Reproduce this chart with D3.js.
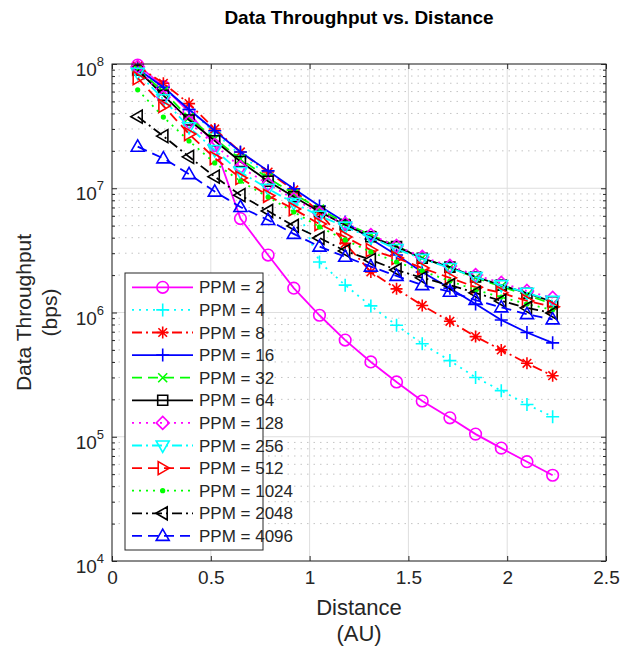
<!DOCTYPE html>
<html><head><meta charset="utf-8">
<script src="https://cdn.jsdelivr.net/npm/d3@7"></script>
<style>body{margin:0;background:#fff}svg{display:block}</style>
</head><body><svg id="c" width="620" height="653"></svg>
<script>
// ---------------- data ----------------
const distances = [0.13,0.26,0.39,0.52,0.65,0.79,0.92,1.05,1.18,1.31,1.44,1.57,1.71,1.84,1.97,2.10,2.23];
const ppmLabels = ["PPM = 2","PPM = 4","PPM = 8","PPM = 16","PPM = 32","PPM = 64","PPM = 128","PPM = 256","PPM = 512","PPM = 1024","PPM = 2048","PPM = 4096"];
const ppm2    = [9.8e7,6.6e7,4.1e7,2.2e7,5.7e6,2.9e6,1.57e6,9.5e5,6.0e5,4.0e5,2.76e5,1.94e5,1.42e5,1.05e5,8.1e4,6.3e4,4.9e4];
const ppm4    = [9.3e7,6.5e7,4.3e7,2.8e7,1.85e7,1.28e7,8.0e6,2.55e6,1.66e6,1.13e6,7.9e5,5.6e5,4.1e5,3.0e5,2.35e5,1.82e5,1.45e5];
const ppm8    = [9.6e7,7.0e7,4.8e7,3.0e7,1.96e7,1.35e7,9.7e6,6.4e6,3.6e6,2.12e6,1.55e6,1.14e6,8.5e5,6.4e5,5.0e5,3.9e5,3.1e5];
const ppm16   = [9.1e7,6.5e7,4.3e7,2.9e7,1.96e7,1.38e7,9.9e6,7.2e6,5.35e6,3.9e6,2.9e6,2.12e6,1.57e6,1.17e6,8.7e5,6.9e5,5.7e5];
const ppm32   = [9.1e7,6.0e7,3.7e7,2.5e7,1.72e7,1.21e7,9.0e6,6.8e6,5.25e6,4.2e6,3.43e6,2.75e6,2.3e6,1.9e6,1.62e6,1.38e6,1.17e6];
const ppm64   = [8.95e7,5.6e7,3.54e7,2.41e7,1.64e7,1.14e7,8.55e6,6.48e6,5.06e6,4.07e6,3.39e6,2.73e6,2.32e6,1.93e6,1.66e6,1.43e6,1.22e6];
const ppm128  = [9.5e7,5.4e7,3.4e7,2.23e7,1.48e7,1.08e7,8.2e6,6.3e6,5.2e6,4.2e6,3.43e6,2.8e6,2.37e6,2.0e6,1.73e6,1.49e6,1.31e6];
const ppm256  = [8.5e7,5.2e7,3.1e7,2.03e7,1.35e7,9.9e6,7.6e6,6.0e6,4.9e6,4.0e6,3.24e6,2.7e6,2.28e6,1.93e6,1.66e6,1.44e6,1.24e6];
const ppm512  = [7.7e7,4.6e7,2.73e7,1.75e7,1.21e7,8.7e6,6.8e6,5.15e6,4.05e6,3.18e6,2.75e6,2.28e6,1.9e6,1.6e6,1.44e6,1.24e6,1.11e6];
const ppm1024 = [6.2e7,3.74e7,2.4e7,1.6e7,1.14e7,8.5e6,6.44e6,4.88e6,3.84e6,3.07e6,2.55e6,2.16e6,1.79e6,1.52e6,1.33e6,1.17e6,1.05e6];
const ppm2048 = [3.77e7,2.63e7,1.79e7,1.24e7,8.8e6,6.56e6,4.97e6,3.98e6,3.13e6,2.65e6,2.2e6,1.9e6,1.66e6,1.44e6,1.24e6,1.09e6,9.9e5];
const ppm4096 = [2.16e7,1.74e7,1.30e7,9.4e6,7.06e6,5.55e6,4.29e6,3.39e6,2.81e6,2.34e6,1.97e6,1.66e6,1.47e6,1.26e6,1.10e6,9.7e5,8.8e5];
const seriesValues = [ppm2,ppm4,ppm8,ppm16,ppm32,ppm64,ppm128,ppm256,ppm512,ppm1024,ppm2048,ppm4096];
const xTicks = [0,0.5,1,1.5,2,2.5];
const xTickLabels = ["0","0.5","1","1.5","2","2.5"];
const yTickExponents = [4,5,6,7,8];

// ---------------- styles ----------------
const styles = [
  {color:"#ff00ff", dash:null,        marker:"circle"},
  {color:"#00ffff", dash:"2,5",       marker:"plus"},
  {color:"#ff0000", dash:"10,4,2,4",  marker:"asterisk"},
  {color:"#0000ff", dash:null,        marker:"plus"},
  {color:"#00ff00", dash:"10,6",      marker:"x"},
  {color:"#000000", dash:null,        marker:"square"},
  {color:"#ff00ff", dash:"2,5",       marker:"diamond"},
  {color:"#00ffff", dash:"10,4,2,4",  marker:"tdown"},
  {color:"#ff0000", dash:"10,6",      marker:"tright"},
  {color:"#00ff00", dash:"2,5",       marker:"point"},
  {color:"#000000", dash:"10,4,2,4",  marker:"tleft"},
  {color:"#0000ff", dash:"10,6",      marker:"tup"}
];
const FONT = "'Liberation Sans', Arial, Helvetica, sans-serif";
const TXT = "#262626";

function markerPath(t){
  switch(t){
    case "circle": {const r=5.8; return `M${r},0A${r},${r} 0 1,1 ${-r},0A${r},${r} 0 1,1 ${r},0Z`;}
    case "plus": return "M-6.5,0H6.5M0,-6.5V6.5";
    case "asterisk": return "M-6,0H6M0,-6V6M-4.3,-4.3L4.3,4.3M-4.3,4.3L4.3,-4.3";
    case "x": return "M-4.5,-4.5L4.5,4.5M-4.5,4.5L4.5,-4.5";
    case "square": return "M-5,-5H5V5H-5Z";
    case "diamond": return "M0,-6.5L6.5,0L0,6.5L-6.5,0Z";
    case "tdown": return "M-6.5,-4.5L6.5,-4.5L0,6.8Z";
    case "tup": return "M0,-6.8L6.5,4.5L-6.5,4.5Z";
    case "tright": return "M6.8,0L-4.5,-6.5L-4.5,6.5Z";
    case "tleft": return "M-6.8,0L4.5,-6.5L4.5,6.5Z";
    case "point": {const r=1.8; return `M${r},0A${r},${r} 0 1,1 ${-r},0A${r},${r} 0 1,1 ${r},0Z`;}
  }
}

// ---------------- layout ----------------
const L=112, R=606, T=64, B=561;
const svg = d3.select("#c");
const x = d3.scaleLinear().domain([0,2.5]).range([L,R]);
const y = d3.scaleLog().domain([1e4,1e8]).range([B,T]);

svg.append("rect").attr("x",L).attr("y",T).attr("width",R-L).attr("height",B-T).attr("fill","#fff");

// minor grid
const minorVals = [];
yTickExponents.slice(0,-1).forEach(e=>{ for(let k=2;k<=9;k++) minorVals.push(k*Math.pow(10,e)); });
const grid = svg.append("g");
grid.selectAll(".mg").data(minorVals).join("line")
  .attr("x1",L).attr("x2",R).attr("y1",d=>y(d)).attr("y2",d=>y(d))
  .attr("stroke","#c4c4c4").attr("stroke-width",1).attr("stroke-dasharray","1.5,5");
grid.selectAll(".gy").data(yTickExponents.map(e=>Math.pow(10,e))).join("line")
  .attr("x1",L).attr("x2",R).attr("y1",d=>y(d)).attr("y2",d=>y(d))
  .attr("stroke","#dedede").attr("stroke-width",1);
grid.selectAll(".gx").data(xTicks).join("line")
  .attr("y1",T).attr("y2",B).attr("x1",d=>x(d)).attr("x2",d=>x(d))
  .attr("stroke","#dedede").attr("stroke-width",1);

// series
const plot = svg.append("g");
seriesValues.forEach((vals,i)=>{
  const st = styles[i];
  const pts = distances.map((d,j)=>[d,vals[j]]);
  const line = d3.line().x(p=>x(p[0])).y(p=>y(p[1]));
  plot.append("path").attr("d",line(pts)).attr("fill","none")
    .attr("stroke",st.color).attr("stroke-width",1.8)
    .attr("stroke-dasharray",st.dash);
  plot.append("g").selectAll("path").data(pts).join("path")
    .attr("transform",p=>`translate(${x(p[0])},${y(p[1])})`)
    .attr("d",markerPath(st.marker))
    .attr("fill",st.marker==="point"?st.color:"none")
    .attr("stroke",st.color).attr("stroke-width",1.6);
});

// axes
function styleAxis(g){ g.select(".domain").remove(); g.selectAll(".tick line").attr("stroke",TXT).attr("stroke-width",1); }
svg.append("g").attr("transform",`translate(0,${B})`)
  .call(d3.axisBottom(x).tickValues(xTicks).tickFormat((d,i)=>xTickLabels[i]).tickSizeInner(-5).tickSizeOuter(0).tickPadding(10))
  .call(styleAxis)
  .call(g=>g.selectAll("text").attr("fill",TXT).attr("font-family",FONT).attr("font-size",19));
svg.append("g").attr("transform",`translate(0,${T})`)
  .call(d3.axisTop(x).tickValues(xTicks).tickFormat("").tickSizeInner(-5).tickSizeOuter(0)).call(styleAxis);
const majorY = yTickExponents.map(e=>Math.pow(10,e));
[["l",L,d3.axisLeft],["r",R,d3.axisRight]].forEach(([k,px,ax])=>{
  svg.append("g").attr("transform",`translate(${px},0)`)
    .call(ax(y).tickValues(majorY).tickFormat("").tickSizeInner(-5).tickSizeOuter(0)).call(styleAxis);
  svg.append("g").attr("transform",`translate(${px},0)`)
    .call(ax(y).tickValues(minorVals).tickFormat("").tickSizeInner(-3).tickSizeOuter(0)).call(styleAxis);
});
// y tick labels
const yl = svg.append("g").attr("font-family",FONT).attr("fill",TXT);
yTickExponents.forEach(e=>{
  const t = yl.append("text").attr("x",104).attr("y",y(Math.pow(10,e))+12).attr("text-anchor","end");
  t.append("tspan").attr("font-size",19).text("10");
  t.append("tspan").attr("font-size",13).attr("dy",-10).text(String(e));
});
// box
svg.append("rect").attr("x",L).attr("y",T).attr("width",R-L).attr("height",B-T)
  .attr("fill","none").attr("stroke",TXT).attr("stroke-width",1);

// labels
svg.append("text").attr("x",(L+R)/2).attr("y",24).attr("text-anchor","middle")
  .attr("font-family",FONT).attr("font-weight","bold").attr("font-size",19).attr("fill","#000")
  .text("Data Throughput vs. Distance");
const xl = svg.append("text").attr("text-anchor","middle").attr("font-family",FONT).attr("font-size",22).attr("fill",TXT);
xl.append("tspan").attr("x",(L+R)/2).attr("y",615).text("Distance");
xl.append("tspan").attr("x",(L+R)/2).attr("y",641).text("(AU)");
const ylab = svg.append("text").attr("transform",`translate(0,${(T+B)/2}) rotate(-90)`)
  .attr("text-anchor","middle").attr("font-family",FONT).attr("font-size",21).attr("fill",TXT);
ylab.append("tspan").attr("x",0).attr("y",31).text("Data Throughput");
ylab.append("tspan").attr("x",0).attr("y",57).text("(bps)");

// legend
const lg = svg.append("g");
lg.append("rect").attr("x",125).attr("y",273).attr("width",138).attr("height",277)
  .attr("fill","#fff").attr("stroke",TXT).attr("stroke-width",1);
ppmLabels.forEach((lab,i)=>{
  const st = styles[i];
  const cy = 287.3 + i*22.6;
  lg.append("line").attr("x1",132).attr("x2",193).attr("y1",cy).attr("y2",cy)
    .attr("stroke",st.color).attr("stroke-width",1.8).attr("stroke-dasharray",st.dash);
  lg.append("path").attr("transform",`translate(162.7,${cy})`).attr("d",markerPath(st.marker))
    .attr("fill",st.marker==="point"?st.color:"none").attr("stroke",st.color).attr("stroke-width",1.6);
  lg.append("text").attr("x",199).attr("y",cy+6).attr("font-family",FONT).attr("font-size",17)
    .attr("fill",TXT).text(lab);
});
</script></body></html>
